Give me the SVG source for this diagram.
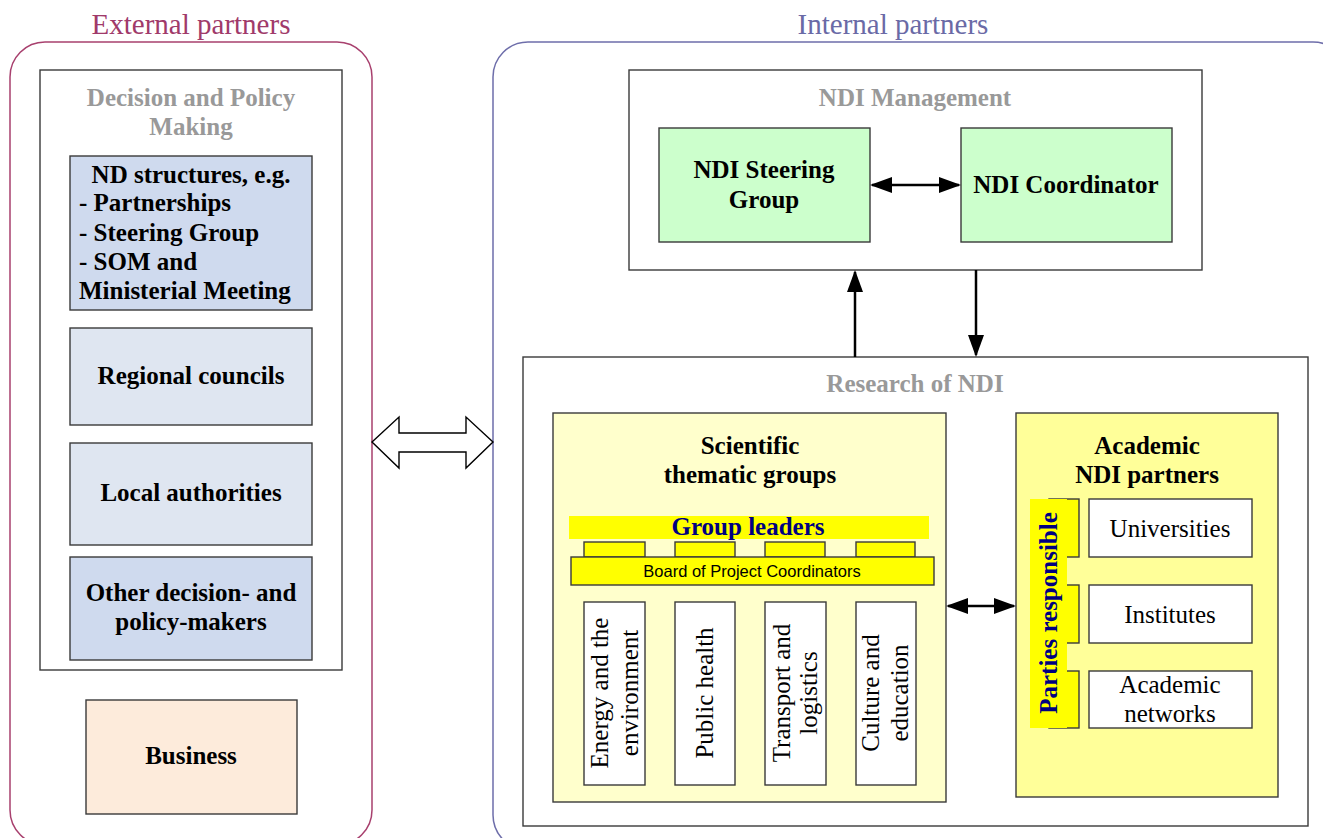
<svg xmlns="http://www.w3.org/2000/svg" width="1323" height="838" viewBox="0 0 1323 838">
<style>
.serif{font-family:"Liberation Serif","Times New Roman",serif}
.b{font-family:"Liberation Serif","Times New Roman",serif;font-weight:bold;font-size:25px;fill:#000;text-anchor:middle}
.gt{font-family:"Liberation Serif","Times New Roman",serif;font-weight:bold;font-size:25px;fill:#999;text-anchor:middle}
.r{font-family:"Liberation Serif","Times New Roman",serif;font-size:25px;fill:#000;text-anchor:middle}
.rv{font-family:"Liberation Serif","Times New Roman",serif;font-size:25px;fill:#000;text-anchor:middle}
.box{stroke:#3a3a3a;stroke-width:1.4}
.conn{stroke:#000;stroke-width:2.5;fill:none}
</style>
<defs>
<marker id="ah" markerWidth="22" markerHeight="16" refX="20" refY="8" orient="auto-start-reverse" markerUnits="userSpaceOnUse">
<path d="M0,0 L22,8 L0,16 z" fill="#000"/>
</marker>
</defs>
<rect width="1323" height="838" fill="#fff"/>

<g id="external">
<rect x="10" y="42" width="362" height="803" rx="35" fill="none" stroke="#a8406e" stroke-width="1.5"/>
<text x="191" y="34" class="serif" font-size="29" fill="#a03a6a" text-anchor="middle">External partners</text>
</g>
<g id="internal">
<rect x="493" y="42" width="855" height="808" rx="35" fill="none" stroke="#6e6eaa" stroke-width="1.5"/>
<text x="893" y="34" class="serif" font-size="29" fill="#6a6aa6" text-anchor="middle">Internal partners</text>
</g>

<g id="decision">
<rect x="40" y="70" width="302" height="600" fill="#fff" class="box"/>
<text x="191" y="106" class="gt">Decision and Policy</text>
<text x="191" y="135" class="gt">Making</text>
</g>
<g id="nd-structures">
<rect x="70" y="156" width="242" height="154" fill="#cfdaee" class="box"/>
<text x="191" y="183" class="b">ND structures, e.g.</text>
<text x="79" y="211" class="b" text-anchor="start" style="text-anchor:start">- Partnerships</text>
<text x="79" y="241" class="b" style="text-anchor:start">- Steering Group</text>
<text x="79" y="270" class="b" style="text-anchor:start">- SOM and</text>
<text x="79" y="299" class="b" style="text-anchor:start">Ministerial Meeting</text>
</g>
<g id="regional">
<rect x="70" y="328" width="242" height="97" fill="#dfe6f1" class="box"/>
<text x="191" y="384" class="b">Regional councils</text>
</g>
<g id="local">
<rect x="70" y="443" width="242" height="102" fill="#dfe6f1" class="box"/>
<text x="191" y="501" class="b">Local authorities</text>
</g>
<g id="other">
<rect x="70" y="557" width="242" height="103" fill="#cfdaee" class="box"/>
<text x="191" y="601" class="b">Other decision- and</text>
<text x="191" y="630" class="b">policy-makers</text>
</g>
<g id="business">
<rect x="86" y="700" width="211" height="114" fill="#fdebdb" class="box"/>
<text x="191" y="764" class="b">Business</text>
</g>

<g id="mgmt">
<rect x="629" y="70" width="573" height="200" fill="#fff" class="box"/>
<text x="915" y="106" class="gt">NDI Management</text>
</g>
<g id="steering">
<rect x="659" y="128" width="211" height="114" fill="#ccffcc" class="box"/>
<text x="764" y="178" class="b">NDI Steering</text>
<text x="764" y="208" class="b">Group</text>
</g>
<g id="coordinator">
<rect x="961" y="128" width="211" height="114" fill="#ccffcc" class="box"/>
<text x="1066" y="193" class="b">NDI Coordinator</text>
</g>

<g id="research">
<rect x="523" y="357" width="785" height="469" fill="#fff" class="box"/>
<text x="915" y="392" class="gt">Research of NDI</text>
</g>
<g id="scientific">
<rect x="553" y="413" width="393" height="389" fill="#ffffcc" class="box"/>
<text x="750" y="454" class="b">Scientific</text>
<text x="750" y="483" class="b">thematic groups</text>
</g>
<g id="group-leaders">
<rect x="569" y="516" width="360" height="23" fill="#ffff00"/>
<text x="748" y="535" class="b" fill="#000080" style="fill:#000080">Group leaders</text>
</g>
<g id="board">
<rect x="584" y="542" width="61" height="15" fill="#ffff00" class="box"/>
<rect x="675" y="542" width="60" height="15" fill="#ffff00" class="box"/>
<rect x="765" y="542" width="60" height="15" fill="#ffff00" class="box"/>
<rect x="856" y="542" width="59" height="15" fill="#ffff00" class="box"/>
<rect x="571" y="557" width="363" height="28" fill="#ffff00" class="box"/>
<text x="752" y="577" font-family="Liberation Sans, Arial, sans-serif" font-size="16.5" text-anchor="middle">Board of Project Coordinators</text>
</g>
<g id="energy">
<rect x="584" y="602" width="61" height="183" fill="#fff" class="box"/>
<text transform="translate(608,693) rotate(-90)" class="rv">Energy and the</text>
<text transform="translate(638,693) rotate(-90)" class="rv">environment</text>
</g>
<g id="health">
<rect x="675" y="602" width="60" height="183" fill="#fff" class="box"/>
<text transform="translate(713,693) rotate(-90)" class="rv">Public health</text>
</g>
<g id="transport">
<rect x="765" y="602" width="61" height="183" fill="#fff" class="box"/>
<text transform="translate(790,693) rotate(-90)" class="rv">Transport and</text>
<text transform="translate(817,693) rotate(-90)" class="rv">logistics</text>
</g>
<g id="culture">
<rect x="856" y="602" width="60" height="183" fill="#fff" class="box"/>
<text transform="translate(879,693) rotate(-90)" class="rv">Culture and</text>
<text transform="translate(908,693) rotate(-90)" class="rv">education</text>
</g>

<g id="academic">
<rect x="1016" y="413" width="262" height="384" fill="#ffff99" class="box"/>
<text x="1147" y="454" class="b">Academic</text>
<text x="1147" y="483" class="b">NDI partners</text>
</g>
<g id="parties">
<rect x="1049" y="499" width="30" height="58" fill="#ffff00" class="box"/>
<rect x="1049" y="585" width="30" height="58" fill="#ffff00" class="box"/>
<rect x="1049" y="671" width="30" height="57" fill="#ffff00" class="box"/>
<rect x="1030" y="499" width="37" height="229" fill="#ffff00"/>
<text transform="translate(1057,613) rotate(-90)" class="b" style="fill:#000080" font-size="24">Parties responsible</text>
</g>
<g id="universities">
<rect x="1089" y="499" width="163" height="58" fill="#fff" class="box"/>
<text x="1170" y="537" class="r">Universities</text>
</g>
<g id="institutes">
<rect x="1089" y="585" width="163" height="58" fill="#fff" class="box"/>
<text x="1170" y="623" class="r">Institutes</text>
</g>
<g id="networks">
<rect x="1089" y="671" width="163" height="57" fill="#fff" class="box"/>
<text x="1170" y="693" class="r">Academic</text>
<text x="1170" y="722" class="r">networks</text>
</g>

<g id="connectors">
<polygon points="372,442 399,417 399,433 466,433 466,417 493,442 466,468 466,452 399,452 399,468" fill="#fff" stroke="#000" stroke-width="1.4"/>
<line x1="872" y1="185" x2="959" y2="185" class="conn" marker-start="url(#ah)" marker-end="url(#ah)"/>
<line x1="855" y1="357" x2="855" y2="272" class="conn" marker-end="url(#ah)"/>
<line x1="976" y1="270" x2="976" y2="355" class="conn" marker-end="url(#ah)"/>
<line x1="948" y1="606" x2="1014" y2="606" class="conn" marker-start="url(#ah)" marker-end="url(#ah)"/>
</g>
</svg>
